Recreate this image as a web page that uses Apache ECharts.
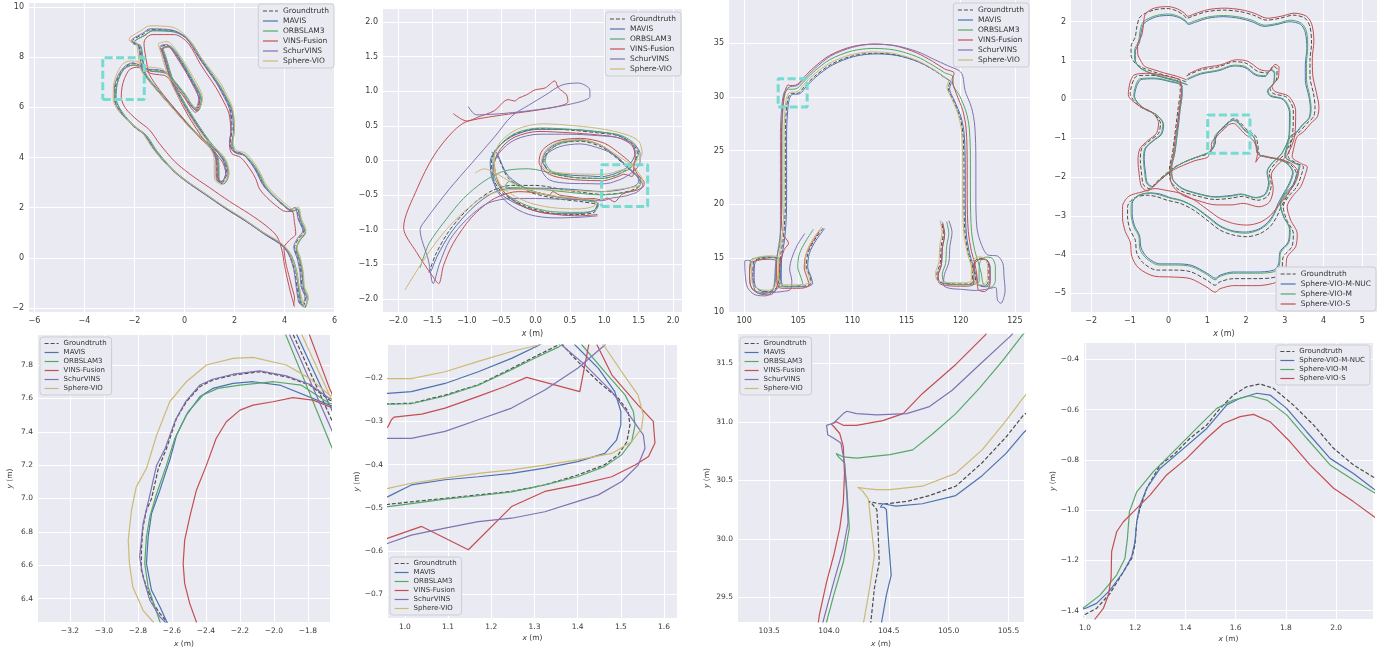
<!DOCTYPE html>
<html><head><meta charset="utf-8">
<script src="https://cdn.jsdelivr.net/npm/echarts/dist/echarts.min.js"></script>
<style>html,body{margin:0;padding:0;background:#fff}#c{width:1396px;height:649px}</style>
</head><body><div id="c"></div>
<script>
const NAMES6 = ['Groundtruth','MAVIS','ORBSLAM3','VINS-Fusion','SchurVINS','Sphere-VIO'];
const NAMES4 = ['Groundtruth','Sphere-VIO-M-NUC','Sphere-VIO-M','Sphere-VIO-S'];

// tick values
const P1_XT=[-6,-4,-2,0,2,4,6], P1_YT=[-2,0,2,4,6,8,10];
const P2_XT=[-2,-1.5,-1,-0.5,0,0.5,1,1.5,2], P2_YT=[-2,-1.5,-1,-0.5,0,0.5,1,1.5,2];
const P3_XT=[100,105,110,115,120,125], P3_YT=[10,15,20,25,30,35];
const P4_XT=[-2,-1,0,1,2,3,4,5], P4_YT=[-5,-4,-3,-2,-1,0,1,2];
const P5_XT=[-3.2,-3.0,-2.8,-2.6,-2.4,-2.2,-2.0,-1.8], P5_YT=[6.4,6.6,6.8,7.0,7.2,7.4,7.6,7.8];
const P6_XT=[1.0,1.1,1.2,1.3,1.4,1.5,1.6], P6_YT=[-0.7,-0.6,-0.5,-0.4,-0.3,-0.2];
const P7_XT=[103.5,104.0,104.5,105.0,105.5], P7_YT=[29.5,30.0,30.5,31.0,31.5];
const P8_XT=[1.0,1.2,1.4,1.6,1.8,2.0], P8_YT=[-1.4,-1.2,-1.0,-0.8,-0.6,-0.4];

// zoom boxes [x0,x1,y0,y1]
const BOX1=[-3.27,-1.61,6.31,7.98], BOX2=[0.96,1.63,-0.665,-0.063], BOX3=[103.14,105.82,29.05,31.69], BOX4=[1.01,2.1,-1.39,-0.405];

// ---------- Panel 1 ----------
const P1_GT=[[4.75,-1.95],[4.85,-1.6],[4.7,-1.2],[4.65,-0.6],[4.55,-0.1],[4.4,0.4],[4.55,0.75],[4.76,1.05],[4.58,1.5],[4.45,1.98],[4.25,1.9],[3.85,2.18],[3.45,2.55],[3.15,2.9],[2.95,3.3],[2.75,3.65],[2.35,4.12],[1.95,4.25],[1.83,4.6],[1.9,5.1],[1.83,5.9],[1.55,6.5],[1.3,6.95],[0.65,7.88],[0.1,8.72],[-0.45,9.05],[-1.35,9.1],[-1.65,8.92],[-2.05,8.7],[-2.1,8.58],[-1.85,8.5],[-1.75,8.0],[-1.65,7.4],[-1.2,6.8],[-0.5,6.0],[0.4,5.0],[1.0,4.45],[1.28,3.9],[1.3,3.1],[1.5,3.0],[1.68,3.35],[1.55,3.9],[0.9,4.7],[0.1,5.9],[-0.5,7.0],[-0.85,8.1],[-0.95,8.4],[-0.7,8.48],[-0.4,8.2],[0.2,7.2],[0.6,6.3],[0.45,5.9],[-0.1,6.6],[-0.5,7.1],[-0.75,7.4],[-1.05,7.48],[-1.4,7.5],[-1.75,7.66],[-2.05,7.76],[-2.35,7.62],[-2.6,7.3],[-2.77,6.8],[-2.78,6.3],[-2.55,5.8],[-2.1,5.3],[-1.6,4.9],[-1.2,4.3],[-0.6,3.6],[0.0,3.1],[0.8,2.55],[1.6,2.0],[2.4,1.5],[3.2,0.95],[3.9,0.5],[4.2,0.1],[4.4,-0.5],[4.5,-1.2],[4.6,-1.8],[4.7,-1.9]];
const P1_MAVIS=[[4.81,-2.0],[4.91,-1.65],[4.76,-1.25],[4.71,-0.65],[4.61,-0.15],[4.46,0.35],[4.61,0.7],[4.82,1.0],[4.64,1.45],[4.51,1.93],[4.31,1.85],[3.91,2.13],[3.51,2.5],[3.21,2.85],[3.01,3.25],[2.81,3.6],[2.41,4.07],[2.01,4.2],[1.89,4.55],[1.96,5.05],[1.89,5.85],[1.61,6.45],[1.36,6.9],[0.71,7.83],[0.16,8.67],[-0.39,9.0],[-1.29,9.05],[-1.59,8.87],[-1.99,8.65],[-2.04,8.53],[-1.79,8.45],[-1.69,7.95],[-1.59,7.35],[-1.14,6.75],[-0.44,5.95],[0.46,4.95],[1.06,4.4],[1.34,3.85],[1.36,3.05],[1.56,2.95],[1.74,3.3],[1.61,3.85],[0.96,4.65],[0.16,5.85],[-0.44,6.95],[-0.79,8.05],[-0.89,8.35],[-0.64,8.43],[-0.34,8.15],[0.26,7.15],[0.66,6.25],[0.51,5.85],[-0.04,6.55],[-0.44,7.05],[-0.7,7.33],[-0.99,7.41],[-1.34,7.44],[-1.69,7.6],[-2.05,7.69],[-2.38,7.56],[-2.56,7.3],[-2.7,6.9],[-2.74,6.4],[-2.49,5.75],[-2.04,5.25],[-1.54,4.85],[-1.14,4.25],[-0.54,3.55],[0.06,3.05],[0.86,2.5],[1.66,1.95],[2.46,1.45],[3.26,0.9],[3.96,0.45],[4.26,0.05],[4.46,-0.55],[4.56,-1.25],[4.66,-1.85],[4.76,-1.95]];
const P1_ORB=[[4.84,-1.98],[4.94,-1.63],[4.79,-1.23],[4.74,-0.63],[4.64,-0.13],[4.49,0.37],[4.64,0.72],[4.85,1.02],[4.67,1.47],[4.54,1.95],[4.34,1.87],[3.94,2.15],[3.54,2.52],[3.24,2.87],[3.04,3.27],[2.84,3.62],[2.44,4.09],[2.04,4.22],[1.92,4.57],[1.99,5.07],[1.92,5.87],[1.64,6.47],[1.39,6.92],[0.74,7.85],[0.19,8.69],[-0.36,9.02],[-1.26,9.07],[-1.56,8.89],[-1.96,8.67],[-2.01,8.55],[-1.76,8.47],[-1.66,7.97],[-1.56,7.37],[-1.11,6.77],[-0.41,5.97],[0.49,4.97],[1.09,4.42],[1.37,3.87],[1.39,3.07],[1.59,2.97],[1.77,3.32],[1.64,3.87],[0.99,4.67],[0.19,5.87],[-0.41,6.97],[-0.76,8.07],[-0.86,8.37],[-0.61,8.45],[-0.31,8.17],[0.29,7.17],[0.69,6.27],[0.54,5.87],[-0.01,6.57],[-0.41,7.07],[-0.67,7.35],[-0.96,7.42],[-1.31,7.45],[-1.66,7.6],[-2.05,7.68],[-2.4,7.55],[-2.58,7.28],[-2.71,6.9],[-2.76,6.4],[-2.46,5.77],[-2.01,5.27],[-1.51,4.87],[-1.11,4.27],[-0.51,3.57],[0.09,3.07],[0.89,2.52],[1.69,1.97],[2.49,1.47],[3.29,0.92],[3.99,0.47],[4.29,0.07],[4.49,-0.53],[4.59,-1.23],[4.69,-1.83],[4.79,-1.93]];
const P1_VINS=[[4.36,-1.9],[4.4,-1.6],[4.3,-1.2],[4.2,-0.8],[4.05,-0.2],[3.98,0.4],[4.2,0.7],[4.45,0.95],[4.4,1.4],[4.3,1.85],[4.05,1.85],[3.7,2.05],[3.3,2.4],[3.0,2.75],[2.85,3.15],[2.65,3.5],[2.25,4.0],[1.9,4.15],[1.8,4.5],[1.85,5.0],[1.78,5.75],[1.5,6.35],[1.25,6.8],[0.65,7.7],[0.15,8.55],[-0.4,8.9],[-1.3,8.9],[-1.55,8.75],[-1.62,8.55],[-1.6,8.3],[-1.55,8.0],[-1.5,7.7],[-1.4,7.3],[-1.0,6.7],[-0.35,5.9],[0.5,4.9],[1.05,4.35],[1.3,3.8],[1.32,3.15],[1.5,3.05],[1.65,3.35],[1.5,3.85],[0.85,4.6],[0.1,5.75],[-0.45,6.85],[-0.8,7.95],[-0.9,8.3],[-0.65,8.4],[-0.35,8.05],[0.25,7.05],[0.6,6.2],[0.45,5.8],[-0.05,6.45],[-0.45,6.95],[-0.75,7.25],[-1.0,7.3],[-1.35,7.35],[-1.7,7.55],[-1.9,7.6],[-2.2,7.5],[-2.4,7.15],[-2.5,6.8],[-2.53,6.4],[-2.35,5.95],[-1.9,5.5],[-1.4,5.1],[-1.0,4.55],[-0.4,3.85],[0.2,3.35],[1.0,2.8],[1.8,2.25],[2.6,1.75],[3.3,1.25],[3.7,0.85],[3.9,0.3],[4.0,-0.3],[4.15,-1.0],[4.3,-1.6],[4.4,-1.95]];
const P1_SCHUR=[[4.72,-1.92],[4.82,-1.57],[4.67,-1.17],[4.62,-0.57],[4.52,-0.07],[4.37,0.43],[4.52,0.78],[4.73,1.08],[4.55,1.53],[4.42,2.01],[4.22,1.93],[3.82,2.21],[3.42,2.58],[3.12,2.93],[2.92,3.33],[2.72,3.68],[2.32,4.15],[1.92,4.28],[1.8,4.63],[1.87,5.13],[1.8,5.93],[1.52,6.53],[1.27,6.98],[0.62,7.91],[0.07,8.75],[-0.48,9.08],[-1.38,9.13],[-1.68,8.95],[-2.08,8.73],[-2.13,8.61],[-1.88,8.53],[-1.78,8.03],[-1.68,7.43],[-1.23,6.83],[-0.53,6.03],[0.37,5.03],[0.97,4.48],[1.25,3.93],[1.27,3.13],[1.47,3.03],[1.65,3.38],[1.52,3.93],[0.87,4.73],[0.07,5.93],[-0.53,7.03],[-0.88,8.13],[-0.98,8.43],[-0.73,8.51],[-0.43,8.23],[0.17,7.23],[0.57,6.33],[0.42,5.93],[-0.13,6.63],[-0.53,7.13],[-0.78,7.42],[-1.08,7.5],[-1.42,7.52],[-1.78,7.68],[-2.08,7.77],[-2.38,7.64],[-2.63,7.32],[-2.8,6.82],[-2.81,6.32],[-2.58,5.83],[-2.13,5.33],[-1.63,4.93],[-1.23,4.33],[-0.63,3.63],[-0.03,3.13],[0.77,2.58],[1.57,2.03],[2.37,1.53],[3.17,0.98],[3.87,0.53],[4.17,0.13],[4.37,-0.47],[4.47,-1.17],[4.57,-1.77],[4.67,-1.87]];
const P1_SPH=[[4.85,-1.9],[4.95,-1.55],[4.8,-1.15],[4.75,-0.55],[4.65,-0.05],[4.5,0.45],[4.65,0.8],[4.86,1.1],[4.68,1.55],[4.55,2.03],[4.35,1.95],[3.95,2.23],[3.55,2.6],[3.25,2.95],[3.05,3.35],[2.85,3.7],[2.45,4.17],[2.05,4.3],[1.95,4.65],[2.0,5.15],[1.93,5.95],[1.65,6.57],[1.4,7.03],[0.65,8.0],[0.05,8.85],[-0.5,9.2],[-1.4,9.25],[-1.75,9.05],[-2.17,8.8],[-2.22,8.68],[-1.95,8.6],[-1.85,8.1],[-1.75,7.5],[-1.3,6.9],[-0.6,6.1],[0.3,5.1],[0.9,4.55],[1.18,4.0],[1.2,3.15],[1.48,2.92],[1.78,3.38],[1.62,3.98],[0.8,4.8],[0.0,6.0],[-0.6,7.1],[-0.95,8.2],[-1.05,8.52],[-0.7,8.62],[-0.35,8.3],[0.3,7.28],[0.72,6.35],[0.55,5.95],[-0.2,6.7],[-0.6,7.2],[-0.85,7.5],[-1.15,7.58],[-1.5,7.62],[-1.8,7.8],[-2.12,7.85],[-2.45,7.75],[-2.7,7.35],[-2.84,6.85],[-2.85,6.3],[-2.65,5.87],[-2.2,5.4],[-1.7,5.0],[-1.3,4.4],[-0.7,3.7],[-0.1,3.2],[0.7,2.65],[1.5,2.1],[2.3,1.6],[3.1,1.05],[3.85,0.6],[4.2,0.2],[4.45,-0.45],[4.6,-1.2],[4.75,-1.85],[4.8,-2.0]];

// ---------- Panel 2 ----------
const P2_GT=[[-1.55,-1.62],[-1.45,-1.35],[-1.28,-1.05],[-1.08,-0.8],[-0.85,-0.58],[-0.62,-0.43],[-0.35,-0.36],[0.0,-0.36],[0.4,-0.42],[0.75,-0.47],[0.96,-0.49],[1.2,-0.476],[1.4,-0.43],[1.49,-0.38],[1.522,-0.3],[1.5,-0.24],[1.45,-0.2],[1.4,-0.16],[1.3,-0.07],[1.15,0.06],[0.95,0.2],[0.65,0.28],[0.35,0.24],[0.17,0.12],[0.12,-0.02],[0.22,-0.17],[0.5,-0.24],[0.8,-0.255],[0.96,-0.259],[1.17,-0.215],[1.293,-0.154],[1.36,-0.12],[1.45,0.0],[1.48,0.12],[1.4,0.25],[1.2,0.36],[0.9,0.4],[0.5,0.44],[0.05,0.46],[-0.3,0.38],[-0.52,0.22],[-0.64,0.0],[-0.62,-0.25],[-0.48,-0.47],[-0.15,-0.66],[0.23,-0.76],[0.62,-0.78],[0.85,-0.75],[0.9,-0.65],[0.7,-0.6],[0.3,-0.55],[-0.1,-0.45],[-0.4,-0.25],[-0.55,0.05],[-0.64,0.12]];
const P2_MAVIS=[[-1.52,-1.6],[-1.42,-1.36],[-1.25,-1.07],[-1.05,-0.82],[-0.82,-0.6],[-0.6,-0.46],[-0.33,-0.4],[0.0,-0.4],[0.4,-0.41],[0.75,-0.435],[0.96,-0.45],[1.2,-0.43],[1.38,-0.39],[1.46,-0.36],[1.5,-0.3],[1.49,-0.25],[1.45,-0.2],[1.39,-0.15],[1.3,-0.06],[1.15,0.07],[0.95,0.22],[0.65,0.3],[0.35,0.26],[0.16,0.14],[0.1,0.0],[0.2,-0.15],[0.5,-0.21],[0.8,-0.225],[0.96,-0.234],[1.17,-0.185],[1.293,-0.126],[1.33,-0.1],[1.42,0.02],[1.45,0.13],[1.38,0.26],[1.18,0.37],[0.88,0.42],[0.48,0.45],[0.03,0.45],[-0.3,0.37],[-0.54,0.2],[-0.66,-0.02],[-0.63,-0.27],[-0.5,-0.49],[-0.15,-0.68],[0.23,-0.77],[0.62,-0.77],[0.85,-0.72],[0.9,-0.62],[0.7,-0.56],[0.3,-0.52],[-0.1,-0.42],[-0.4,-0.22],[-0.55,0.08],[-0.6,0.15]];
const P2_ORB=[[-1.68,-1.55],[-1.55,-1.2],[-1.3,-0.85],[-1.05,-0.55],[-0.75,-0.3],[-0.45,-0.15],[-0.1,-0.12],[0.3,-0.2],[0.6,-0.25],[0.8,-0.258],[0.96,-0.26],[1.17,-0.216],[1.293,-0.155],[1.37,-0.12],[1.46,0.0],[1.5,0.12],[1.42,0.26],[1.22,0.37],[0.92,0.41],[0.52,0.45],[0.07,0.47],[-0.28,0.4],[-0.5,0.24],[-0.62,0.02],[-0.6,-0.23],[-0.46,-0.46],[-0.13,-0.65],[0.25,-0.74],[0.64,-0.75],[0.87,-0.72],[0.92,-0.63],[0.72,-0.58],[0.32,-0.53],[-0.08,-0.44],[-0.38,-0.3],[-0.45,-0.38],[-0.1,-0.4],[0.4,-0.45],[0.75,-0.485],[0.96,-0.497],[1.2,-0.48],[1.4,-0.44],[1.5,-0.39],[1.533,-0.31],[1.52,-0.25],[1.47,-0.2],[1.42,-0.16],[1.32,-0.07],[1.17,0.06],[0.97,0.21],[0.67,0.29],[0.37,0.25],[0.19,0.13],[0.14,-0.01],[0.24,-0.16],[0.5,-0.23]];
const P2_VINS=[[-1.2,0.68],[-1.0,0.57],[-0.83,0.63],[-0.6,0.72],[-0.4,0.88],[-0.3,0.86],[-0.25,0.9],[-0.13,0.95],[-0.01,1.02],[0.14,1.05],[0.28,1.15],[0.33,1.05],[0.45,0.95],[0.47,0.85],[-0.98,0.57],[-1.2,0.42],[-1.48,0.07],[-1.72,-0.4],[-1.92,-0.97],[-1.73,-1.33],[-1.5,-1.67],[-1.41,-1.78],[-1.34,-1.52],[-1.2,-1.2],[-0.93,-0.82],[-0.6,-0.55],[-0.25,-0.45],[0.05,-0.47],[0.2,-0.5],[0.25,-0.45],[0.35,-0.5],[0.5,-0.52],[0.7,-0.55],[0.85,-0.55],[0.961,-0.57],[1.039,-0.543],[1.147,-0.597],[1.247,-0.497],[1.324,-0.462],[1.4,-0.447],[1.479,-0.428],[1.533,-0.401],[1.564,-0.381],[1.579,-0.35],[1.575,-0.3],[1.54,-0.262],[1.479,-0.192],[1.44,-0.12],[1.4,-0.05],[1.25,0.08],[1.0,0.25],[0.65,0.32],[0.3,0.28],[0.1,0.15],[0.05,-0.02],[0.2,-0.2],[0.5,-0.27],[0.8,-0.29],[0.955,-0.292],[0.97,-0.296],[1.039,-0.283],[1.093,-0.269],[1.17,-0.242],[1.232,-0.219],[1.282,-0.198],[1.405,-0.231],[1.428,-0.1],[1.45,0.05],[1.4,0.22],[1.2,0.33],[0.9,0.37],[0.5,0.4],[0.05,0.42],[-0.3,0.34],[-0.5,0.18],[-0.6,-0.05],[-0.55,-0.3],[-0.4,-0.52],[-0.1,-0.7],[0.3,-0.78],[0.65,-0.8],[0.9,-0.78]];
const P2_SCHUR=[[-0.98,0.78],[-0.86,0.66],[0.79,0.92],[0.79,1.02],[0.62,1.12],[0.38,1.09],[0.15,0.95],[-0.1,0.8],[-0.35,0.64],[-0.59,0.35],[-0.93,-0.04],[-1.26,-0.42],[-1.6,-0.86],[-1.68,-1.0],[-1.56,-1.44],[-1.49,-1.78],[-1.4,-1.5],[-1.25,-1.15],[-1.0,-0.85],[-0.7,-0.62],[-0.35,-0.55],[0.0,-0.55],[0.4,-0.56],[0.75,-0.57],[0.961,-0.582],[1.093,-0.547],[1.17,-0.532],[1.247,-0.524],[1.324,-0.509],[1.4,-0.485],[1.448,-0.47],[1.502,-0.439],[1.54,-0.401],[1.556,-0.362],[1.552,-0.331],[1.525,-0.293],[1.479,-0.231],[1.417,-0.169],[1.363,-0.12],[1.3,-0.05],[1.15,0.08],[0.95,0.17],[0.65,0.24],[0.35,0.2],[0.15,0.08],[0.08,-0.1],[0.2,-0.28],[0.5,-0.33],[0.8,-0.335],[0.961,-0.339],[1.093,-0.323],[1.17,-0.296],[1.247,-0.269],[1.324,-0.227],[1.4,-0.177],[1.463,-0.123],[1.52,-0.02],[1.52,0.1],[1.42,0.24],[1.2,0.33],[0.9,0.36],[0.5,0.38],[0.05,0.38],[-0.3,0.3],[-0.52,0.12],[-0.62,-0.12],[-0.58,-0.4],[-0.4,-0.62],[-0.1,-0.78],[0.3,-0.83],[0.65,-0.82],[0.9,-0.8]];
const P2_SPH=[[-1.9,-1.87],[-1.72,-1.58],[-1.52,-1.28],[-1.3,-1.0],[-1.05,-0.75],[-0.8,-0.55],[-0.55,-0.45],[-0.3,-0.42],[0.0,-0.42],[0.4,-0.43],[0.75,-0.445],[0.961,-0.455],[1.093,-0.431],[1.17,-0.42],[1.247,-0.412],[1.324,-0.401],[1.4,-0.389],[1.479,-0.374],[1.525,-0.347],[1.548,-0.316],[1.552,-0.285],[1.54,-0.239],[1.502,-0.185],[1.46,-0.123],[1.4,-0.06],[1.3,0.0],[1.15,0.1],[0.95,0.22],[0.65,0.3],[0.35,0.27],[0.15,0.15],[0.08,-0.05],[0.2,-0.15],[0.5,-0.19],[0.8,-0.198],[0.961,-0.201],[1.093,-0.185],[1.17,-0.161],[1.247,-0.138],[1.309,-0.123],[1.42,-0.05],[1.55,0.1],[1.5,0.28],[1.3,0.38],[1.0,0.45],[0.6,0.5],[0.1,0.53],[-0.25,0.46],[-0.5,0.28],[-0.6,0.05],[-0.58,-0.2],[-0.45,-0.42],[-0.12,-0.6],[0.23,-0.68],[0.62,-0.7],[0.85,-0.66],[0.88,-0.58],[0.6,-0.55],[0.2,-0.5],[-0.2,-0.4],[-0.55,-0.2],[-0.75,-0.12],[-0.88,-0.18]];

// ---------- Panel 3 ----------
const P3_GT=[[107.3,17.8],[106.5,16.7],[105.9,15.5],[105.75,14.25],[106.07,13.3],[106.2,12.7],[105.45,12.4],[103.9,12.4],[103.45,12.5],[103.3,13.3],[103.3,14.9],[102.5,15.1],[101.5,15.0],[100.9,14.7],[100.8,13.5],[100.9,12.5],[101.5,12.0],[102.4,11.9],[103.0,12.3],[103.2,13.0],[103.3,14.5],[103.4,15.5],[103.6,16.7],[103.75,18.5],[103.8,20.4],[103.8,23.5],[103.8,26.6],[103.9,28.8],[104.06,29.9],[104.35,30.3],[104.5,30.3],[105.0,30.35],[105.65,31.05],[106.5,31.9],[108.0,33.0],[110.0,33.8],[112.0,34.05],[114.0,33.9],[116.0,33.3],[117.5,32.5],[118.5,31.8],[119.0,31.4],[118.85,30.8],[119.3,29.7],[119.9,28.2],[120.2,26.6],[120.3,23.5],[120.3,20.4],[120.4,17.3],[120.7,15.5],[121.0,14.5],[121.3,13.5],[121.5,12.6],[122.2,12.4],[122.6,13.0],[122.6,14.2],[122.3,14.9],[121.7,15.0],[121.2,14.6],[121.1,13.6],[121.1,12.8],[120.5,12.6],[119.5,12.6],[118.3,12.7],[117.9,12.9],[117.8,13.5],[118.1,14.5],[118.2,16.1],[118.4,17.3],[118.2,18.4]];
const P3_MAVIS=[[107.42,17.74],[106.62,16.64],[106.02,15.44],[105.87,14.19],[106.19,13.24],[106.32,12.64],[105.57,12.34],[104.02,12.34],[103.57,12.44],[103.42,13.24],[103.42,14.84],[102.62,15.04],[101.62,14.94],[101.02,14.64],[100.92,13.44],[101.02,12.44],[101.62,11.94],[102.52,11.84],[103.12,12.24],[103.32,12.94],[103.42,14.44],[103.52,15.44],[103.72,16.64],[103.87,18.44],[103.92,20.34],[103.92,23.44],[103.92,26.54],[104.02,28.74],[104.18,29.84],[104.47,30.24],[104.62,30.24],[105.12,30.29],[105.77,30.99],[106.62,31.84],[108.12,32.94],[110.12,33.74],[112.12,33.99],[114.12,33.84],[116.12,33.24],[117.62,32.44],[118.62,31.74],[119.12,31.34],[118.97,30.74],[119.42,29.64],[120.02,28.14],[120.32,26.54],[120.42,23.44],[120.42,20.34],[120.52,17.24],[120.82,15.44],[121.12,14.44],[121.42,13.44],[121.62,12.54],[122.32,12.34],[122.72,12.94],[122.72,14.14],[122.42,14.84],[121.82,14.94],[121.32,14.54],[121.22,13.54],[121.22,12.74],[120.62,12.54],[119.62,12.54],[118.42,12.64],[118.02,12.84],[117.92,13.44],[118.22,14.44],[118.32,16.04],[118.52,17.24],[118.32,18.34]];
const P3_ORB=[[106.4,17.7],[105.7,16.6],[105.1,15.4],[104.95,14.2],[105.25,13.2],[105.4,12.65],[104.7,12.4],[103.5,12.35],[103.1,12.5],[102.9,13.3],[102.95,14.9],[102.2,15.15],[101.2,15.05],[100.6,14.8],[100.5,13.5],[100.6,12.4],[101.2,11.9],[102.1,11.8],[102.7,12.2],[102.9,13.0],[103.0,14.5],[103.1,15.6],[103.3,16.9],[103.45,18.7],[103.5,20.6],[103.5,23.7],[103.5,26.8],[103.6,29.0],[103.75,30.2],[104.05,30.72],[104.3,30.7],[104.9,30.8],[105.55,31.45],[106.4,32.3],[107.9,33.45],[109.9,34.25],[111.9,34.5],[113.9,34.35],[115.9,33.75],[117.4,32.95],[118.5,32.25],[119.3,31.85],[119.3,31.2],[119.9,30.1],[120.5,28.6],[120.8,27.0],[120.9,23.8],[120.9,20.6],[121.0,17.5],[121.3,15.7],[121.6,14.7],[121.9,13.6],[122.1,12.6],[122.8,12.3],[123.2,12.9],[123.2,14.2],[122.9,15.0],[122.3,15.1],[121.8,14.7],[121.7,13.7],[121.7,12.8],[121.0,12.55],[120.0,12.55],[118.8,12.65],[118.4,12.9],[118.3,13.5],[118.6,14.5],[118.7,16.1],[118.9,17.3],[118.7,18.4]];
const P3_VINS=[[107.0,17.6],[106.3,16.5],[105.7,15.3],[105.55,14.1],[105.85,13.1],[106.0,12.5],[105.2,12.2],[103.7,12.2],[103.2,12.3],[103.0,13.1],[103.0,14.7],[102.2,14.9],[101.2,14.8],[100.6,14.5],[100.5,13.3],[100.7,12.2],[101.4,11.7],[102.4,11.6],[102.9,12.0],[103.1,12.8],[103.3,14.4],[103.7,15.8],[104.1,16.4],[103.6,17.2],[103.45,18.6],[103.45,20.5],[103.45,23.6],[103.45,26.7],[103.55,29.0],[103.75,30.4],[104.05,31.1],[104.3,31.05],[104.9,31.15],[105.6,31.9],[106.4,32.7],[107.9,33.85],[109.9,34.65],[111.9,34.9],[113.9,34.75],[115.9,34.1],[117.4,33.3],[118.5,32.6],[119.4,32.2],[119.2,31.6],[119.6,30.3],[120.2,28.7],[120.5,27.0],[120.6,23.8],[120.6,20.6],[120.7,17.5],[121.0,15.6],[121.3,14.5],[121.5,13.4],[121.6,12.1],[122.2,11.9],[122.7,12.6],[122.7,14.0],[122.4,14.8],[121.8,14.9],[121.3,14.5],[121.2,13.5],[121.2,12.6],[120.6,12.4],[119.6,12.4],[118.4,12.5],[118.0,12.7],[117.9,13.3],[118.2,14.3],[118.3,15.9],[118.5,17.1],[118.3,18.2]];
const P3_SCHUR=[[105.6,17.3],[104.9,16.2],[104.4,15.0],[104.2,14.0],[104.4,12.9],[104.3,12.1],[103.5,11.9],[102.5,11.8],[101.5,11.7],[101.0,12.0],[100.8,13.2],[100.9,14.4],[100.4,14.8],[100.05,14.75],[100.1,13.5],[100.3,12.3],[101.0,11.6],[102.0,11.5],[102.6,11.9],[102.8,12.8],[102.9,14.4],[103.1,15.5],[103.3,16.3],[103.35,18.5],[103.35,20.4],[103.35,23.5],[103.35,26.6],[103.45,28.8],[103.65,30.3],[104.0,30.8],[104.3,30.95],[104.9,31.05],[105.6,31.7],[106.5,32.6],[108.0,33.8],[110.0,34.6],[112.0,34.9],[114.0,34.75],[116.0,34.2],[117.5,33.5],[118.8,32.9],[119.9,32.4],[120.2,31.9],[120.4,30.6],[121.0,29.0],[121.3,27.3],[121.4,24.0],[121.4,20.8],[121.5,17.8],[121.9,16.3],[122.5,15.3],[123.4,15.2],[123.9,14.5],[124.0,13.3],[124.1,12.0],[123.7,10.8],[123.4,11.1],[123.2,12.3],[122.3,12.1],[121.3,12.0],[120.2,12.1],[119.0,12.2],[118.4,12.5],[118.5,13.5],[118.9,14.6],[119.0,16.1],[119.2,17.4],[118.9,18.5]];
const P3_SPH=[[107.18,17.92],[106.38,16.82],[105.78,15.62],[105.63,14.37],[105.95,13.42],[106.08,12.82],[105.33,12.52],[103.78,12.52],[103.33,12.62],[103.18,13.42],[103.18,15.02],[102.38,15.22],[101.38,15.12],[100.78,14.82],[100.68,13.62],[100.78,12.62],[101.38,12.12],[102.28,12.02],[102.88,12.42],[103.08,13.12],[103.18,14.62],[103.28,15.62],[103.48,16.82],[103.63,18.62],[103.68,20.52],[103.68,23.62],[103.68,26.72],[103.78,28.92],[103.94,30.02],[104.23,30.42],[104.38,30.42],[104.88,30.47],[105.53,31.17],[106.38,32.02],[107.88,33.12],[109.88,33.92],[111.88,34.17],[113.88,34.02],[115.88,33.42],[117.38,32.62],[118.38,31.92],[118.88,31.52],[118.73,30.92],[119.18,29.82],[119.78,28.32],[120.08,26.72],[120.18,23.62],[120.18,20.52],[120.28,17.42],[120.58,15.62],[120.88,14.62],[121.18,13.62],[121.38,12.72],[122.08,12.52],[122.48,13.12],[122.48,14.32],[122.18,15.02],[121.58,15.12],[121.08,14.72],[120.98,13.72],[120.98,12.92],[120.38,12.72],[119.38,12.72],[118.18,12.82],[117.78,13.02],[117.68,13.62],[117.98,14.62],[118.08,16.22],[118.28,17.42],[118.08,18.52]];

// ---------- Panel 4 ----------
const P4_GT=[[0.45,0.45],[0.21,0.54],[-0.13,0.63],[-0.39,0.71],[-0.64,0.8],[-0.86,0.93],[-0.97,1.14],[-0.97,1.36],[-0.86,1.61],[-0.82,1.87],[-0.73,2.13],[-0.39,2.3],[-0.04,2.34],[0.21,2.28],[0.39,2.17],[0.47,2.09],[0.64,2.15],[0.99,2.26],[1.42,2.3],[1.85,2.26],[2.19,2.17],[2.53,2.04],[2.88,2.09],[3.22,2.17],[3.52,2.09],[3.65,1.87],[3.69,1.44],[3.65,1.01],[3.65,0.58],[3.74,0.15],[3.78,-0.19],[3.74,-0.45],[3.57,-0.62],[3.39,-0.83],[3.22,-0.96],[3.14,-1.22],[3.09,-1.48],[3.31,-1.65],[3.48,-1.74],[3.44,-1.91],[3.31,-2.25],[3.09,-2.51],[2.96,-2.77],[3.05,-3.11],[3.22,-3.46],[3.18,-3.8],[2.96,-4.06],[2.92,-4.4],[2.79,-4.57],[2.28,-4.62],[1.68,-4.62],[1.33,-4.7],[1.2,-4.79],[0.99,-4.66],[0.56,-4.44],[0.13,-4.4],[-0.3,-4.4],[-0.64,-4.23],[-0.82,-3.97],[-0.86,-3.63],[-0.99,-3.37],[-1.06,-3.03],[-1.06,-2.77],[-0.9,-2.55],[-0.56,-2.47],[-0.3,-2.51],[-0.04,-2.6],[0.3,-2.68],[0.64,-2.85],[0.99,-3.11],[1.33,-3.37],[1.68,-3.5],[2.02,-3.54],[2.36,-3.46],[2.62,-3.28],[2.79,-3.03],[2.9,-2.78],[3.05,-2.5],[3.22,-2.2],[3.3,-1.92],[3.15,-1.68],[2.9,-1.56],[2.6,-1.5],[2.35,-1.42],[2.3,-1.15],[2.25,-0.95],[2.146,-0.867],[2.069,-0.82],[1.99,-0.754],[1.91,-0.661],[1.83,-0.582],[1.75,-0.515],[1.697,-0.498],[1.644,-0.509],[1.591,-0.542],[1.538,-0.595],[1.485,-0.661],[1.418,-0.714],[1.352,-0.781],[1.299,-0.82],[1.246,-0.913],[1.219,-0.993],[1.206,-1.046],[1.199,-1.139],[1.186,-1.192],[1.153,-1.245],[1.1,-1.331],[1.046,-1.391],[1.0,-1.415],[0.7,-1.5],[0.4,-1.62],[0.15,-1.75],[-0.05,-1.9],[-0.3,-2.12],[-0.5,-2.3],[-0.65,-2.2],[-0.7,-1.9],[-0.73,-1.57],[-0.69,-1.26],[-0.47,-1.05],[-0.26,-0.88],[-0.21,-0.62],[-0.39,-0.36],[-0.73,-0.19],[-0.99,0.15],[-0.82,0.6],[-0.45,0.62],[-0.05,0.55],[0.3,0.42],[0.3,0.2],[0.25,-0.2],[0.2,-0.6],[0.15,-1.0],[0.1,-1.4],[0.02,-1.8],[0.05,-2.1],[0.3,-2.35],[0.7,-2.48],[1.2,-2.58],[1.6,-2.55],[1.9,-2.5],[2.3,-2.6],[2.55,-2.5],[2.65,-2.2],[2.6,-1.9],[2.75,-1.65],[3.0,-1.4],[3.2,-0.9],[3.22,-0.3],[3.05,0.05],[2.7,0.15],[2.62,0.28],[2.78,0.5],[2.8,0.78],[2.7,0.85],[2.55,0.68],[2.3,0.72],[2.0,0.93],[1.7,0.97],[1.3,0.84],[0.8,0.75],[0.45,0.6]];
const P4_NUC=[[0.49,0.37],[0.26,0.45],[-0.06,0.54],[-0.31,0.61],[-0.54,0.7],[-0.75,0.82],[-0.86,1.02],[-0.86,1.23],[-0.75,1.47],[-0.71,1.72],[-0.63,1.96],[-0.31,2.13],[0.03,2.16],[0.26,2.11],[0.44,2.0],[0.51,1.93],[0.67,1.98],[1.01,2.09],[1.41,2.13],[1.82,2.09],[2.15,2.0],[2.47,1.88],[2.8,1.93],[3.12,2.0],[3.41,1.93],[3.53,1.72],[3.57,1.31],[3.53,0.9],[3.53,0.49],[3.62,0.08],[3.66,-0.24],[3.62,-0.49],[3.46,-0.65],[3.29,-0.85],[3.12,-0.97],[3.05,-1.22],[3.0,-1.47],[3.21,-1.63],[3.37,-1.71],[3.33,-1.87],[3.21,-2.2],[3.0,-2.44],[2.88,-2.69],[2.96,-3.01],[3.12,-3.35],[3.09,-3.67],[2.88,-3.92],[2.84,-4.24],[2.72,-4.4],[2.23,-4.45],[1.66,-4.45],[1.33,-4.53],[1.21,-4.61],[1.01,-4.49],[0.6,-4.28],[0.19,-4.24],[-0.22,-4.24],[-0.54,-4.08],[-0.71,-3.83],[-0.75,-3.51],[-0.88,-3.26],[-0.94,-2.94],[-0.94,-2.69],[-0.79,-2.48],[-0.47,-2.41],[-0.22,-2.44],[0.03,-2.53],[0.35,-2.61],[0.67,-2.77],[1.01,-3.01],[1.33,-3.26],[1.66,-3.39],[1.98,-3.42],[2.31,-3.35],[2.55,-3.18],[2.72,-2.94],[2.82,-2.7],[2.96,-2.44],[3.12,-2.15],[3.2,-1.88],[3.06,-1.66],[2.82,-1.54],[2.54,-1.49],[2.3,-1.41],[2.25,-1.15],[2.2,-0.96],[2.146,-0.913],[2.069,-0.854],[1.976,-0.794],[1.883,-0.688],[1.803,-0.595],[1.737,-0.542],[1.684,-0.535],[1.618,-0.555],[1.564,-0.582],[1.485,-0.675],[1.378,-0.767],[1.299,-0.834],[1.246,-0.913],[1.219,-0.98],[1.206,-1.046],[1.199,-1.125],[1.186,-1.185],[1.153,-1.245],[1.1,-1.318],[1.046,-1.371],[1.0,-1.391],[0.73,-1.49],[0.445,-1.6],[0.21,-1.72],[0.02,-1.87],[-0.22,-2.07],[-0.41,-2.25],[-0.55,-2.15],[-0.6,-1.87],[-0.63,-1.55],[-0.59,-1.26],[-0.38,-1.06],[-0.18,-0.9],[-0.13,-0.65],[-0.31,-0.4],[-0.63,-0.24],[-0.88,0.08],[-0.71,0.51],[-0.36,0.53],[0.02,0.46],[0.35,0.34],[0.35,0.13],[0.3,-0.25],[0.26,-0.63],[0.21,-1.01],[0.16,-1.39],[0.08,-1.77],[0.11,-2.06],[0.35,-2.29],[0.73,-2.42],[1.2,-2.51],[1.59,-2.48],[1.87,-2.44],[2.25,-2.53],[2.49,-2.44],[2.58,-2.15],[2.54,-1.87],[2.68,-1.63],[2.92,-1.39],[3.11,-0.92],[3.12,-0.35],[2.96,-0.01],[2.63,0.08],[2.55,0.21],[2.71,0.42],[2.73,0.68],[2.63,0.75],[2.49,0.59],[2.25,0.62],[1.97,0.82],[1.68,0.86],[1.3,0.74],[0.825,0.65],[0.49,0.51]];
const P4_M=[[0.48,0.38],[0.25,0.47],[-0.07,0.56],[-0.32,0.63],[-0.56,0.72],[-0.77,0.85],[-0.88,1.05],[-0.88,1.26],[-0.77,1.5],[-0.74,1.75],[-0.65,2.0],[-0.32,2.16],[0.01,2.2],[0.25,2.14],[0.43,2.04],[0.5,1.96],[0.67,2.02],[1.0,2.12],[1.42,2.16],[1.83,2.12],[2.15,2.04],[2.48,1.91],[2.82,1.96],[3.14,2.04],[3.43,1.96],[3.56,1.75],[3.59,1.33],[3.56,0.92],[3.56,0.51],[3.64,0.1],[3.68,-0.23],[3.64,-0.48],[3.48,-0.64],[3.31,-0.85],[3.14,-0.97],[3.07,-1.22],[3.02,-1.47],[3.23,-1.63],[3.39,-1.72],[3.35,-1.88],[3.23,-2.21],[3.02,-2.46],[2.89,-2.71],[2.98,-3.03],[3.14,-3.37],[3.1,-3.7],[2.89,-3.95],[2.86,-4.27],[2.73,-4.44],[2.24,-4.48],[1.665,-4.48],[1.33,-4.56],[1.2,-4.65],[1.0,-4.52],[0.59,-4.31],[0.18,-4.27],[-0.24,-4.27],[-0.56,-4.11],[-0.74,-3.86],[-0.77,-3.53],[-0.9,-3.28],[-0.97,-2.96],[-0.97,-2.71],[-0.81,-2.5],[-0.49,-2.42],[-0.24,-2.46],[0.01,-2.54],[0.34,-2.62],[0.67,-2.78],[1.0,-3.03],[1.33,-3.28],[1.665,-3.41],[1.99,-3.45],[2.32,-3.37],[2.57,-3.2],[2.73,-2.96],[2.84,-2.72],[2.98,-2.45],[3.14,-2.16],[3.22,-1.89],[3.08,-1.66],[2.84,-1.55],[2.55,-1.49],[2.31,-1.41],[2.26,-1.15],[2.2,-0.97],[2.146,-0.927],[2.069,-0.88],[1.976,-0.82],[1.883,-0.714],[1.803,-0.621],[1.724,-0.562],[1.657,-0.545],[1.591,-0.562],[1.525,-0.595],[1.458,-0.661],[1.378,-0.741],[1.325,-0.794],[1.272,-0.847],[1.206,-0.927],[1.177,-1.006],[1.169,-1.112],[1.159,-1.192],[1.126,-1.258],[1.06,-1.338],[1.0,-1.384],[0.72,-1.49],[0.436,-1.6],[0.2,-1.73],[0.004,-1.87],[-0.24,-2.08],[-0.43,-2.26],[-0.57,-2.16],[-0.62,-1.87],[-0.65,-1.55],[-0.61,-1.26],[-0.4,-1.06],[-0.2,-0.89],[-0.15,-0.64],[-0.32,-0.39],[-0.65,-0.23],[-0.9,0.1],[-0.74,0.53],[-0.38,0.55],[0.004,0.48],[0.34,0.36],[0.34,0.14],[0.29,-0.24],[0.24,-0.62],[0.2,-1.01],[0.15,-1.39],[0.07,-1.78],[0.1,-2.06],[0.34,-2.3],[0.72,-2.43],[1.2,-2.52],[1.59,-2.5],[1.88,-2.45],[2.26,-2.54],[2.5,-2.45],[2.6,-2.16],[2.55,-1.87],[2.69,-1.63],[2.93,-1.39],[3.12,-0.91],[3.14,-0.34],[2.98,0.0],[2.64,0.1],[2.57,0.22],[2.72,0.43],[2.74,0.7],[2.64,0.77],[2.5,0.61],[2.26,0.64],[1.97,0.85],[1.68,0.88],[1.3,0.76],[0.82,0.67],[0.48,0.53]];
const P4_S=[[0.47,0.5],[0.23,0.59],[-0.11,0.68],[-0.37,0.76],[-0.62,0.85],[-0.71,0.98],[-0.8,1.19],[-0.8,1.41],[-0.69,1.66],[-0.65,1.92],[-0.6,2.2],[-0.37,2.35],[-0.02,2.39],[0.23,2.33],[0.41,2.22],[0.49,2.14],[0.66,2.2],[1.01,2.31],[1.44,2.35],[1.87,2.31],[2.21,2.22],[2.55,2.09],[2.9,2.14],[3.24,2.22],[3.56,2.14],[3.7,1.92],[3.75,1.49],[3.71,1.06],[3.72,0.63],[3.81,0.2],[3.88,-0.19],[3.84,-0.45],[3.67,-0.62],[3.49,-0.83],[3.32,-0.96],[3.24,-1.22],[3.19,-1.48],[3.41,-1.65],[3.58,-1.74],[3.54,-1.91],[3.41,-2.25],[3.19,-2.51],[3.06,-2.77],[3.15,-3.11],[3.32,-3.46],[3.28,-3.8],[3.06,-4.06],[3.02,-4.4],[2.89,-4.67],[2.28,-4.8],[1.68,-4.8],[1.33,-4.88],[1.2,-4.97],[0.99,-4.84],[0.56,-4.62],[0.13,-4.58],[-0.35,-4.56],[-0.77,-4.35],[-0.95,-4.05],[-0.99,-3.68],[-1.12,-3.4],[-1.19,-3.05],[-1.19,-2.77],[-1.03,-2.5],[-0.66,-2.38],[-0.35,-2.3],[-0.04,-2.35],[0.3,-2.42],[0.64,-2.58],[0.99,-2.83],[1.33,-3.07],[1.68,-3.2],[2.02,-3.24],[2.36,-3.17],[2.62,-3.0],[2.79,-2.8],[2.95,-2.6],[3.1,-2.4],[3.27,-2.15],[3.35,-1.9],[3.2,-1.68],[2.95,-1.56],[2.65,-1.5],[2.4,-1.45],[2.25,-1.62],[2.3,-1.35],[2.2,-1.08],[2.146,-1.022],[2.069,-0.966],[1.99,-0.913],[1.896,-0.82],[1.817,-0.728],[1.737,-0.648],[1.671,-0.619],[1.618,-0.628],[1.551,-0.655],[1.485,-0.714],[1.405,-0.794],[1.325,-0.86],[1.259,-0.94],[1.206,-0.993],[1.153,-1.046],[1.126,-1.086],[1.106,-1.165],[1.104,-1.271],[1.093,-1.338],[1.073,-1.391],[1.04,-1.433],[1.0,-1.5],[0.68,-1.58],[0.38,-1.7],[0.12,-1.82],[-0.08,-1.97],[-0.33,-2.18],[-0.55,-2.36],[-0.7,-2.25],[-0.76,-1.93],[-0.79,-1.58],[-0.74,-1.27],[-0.52,-1.05],[-0.31,-0.87],[-0.26,-0.6],[-0.44,-0.33],[-0.79,-0.15],[-1.04,0.12],[-0.9,0.62],[-0.5,0.67],[-0.07,0.6],[0.3,0.48],[0.33,0.2],[0.28,-0.22],[0.23,-0.62],[0.17,-1.02],[0.12,-1.43],[0.04,-1.83],[0.07,-2.16],[0.33,-2.45],[0.73,-2.6],[1.23,-2.72],[1.63,-2.72],[1.93,-2.68],[2.33,-2.77],[2.6,-2.65],[2.7,-2.3],[2.65,-1.95],[2.8,-1.7],[3.05,-1.45],[3.26,-0.92],[3.28,-0.3],[3.1,0.08],[2.75,0.2],[2.67,0.33],[2.83,0.55],[2.85,0.83],[2.75,0.9],[2.6,0.73],[2.35,0.77],[2.05,0.98],[1.75,1.02],[1.35,0.89],[0.85,0.8],[0.5,0.65]];

// ---------- Panel 5 (zoom of panel 1) ----------
const P5_GT=[[-1.93,8.08],[-1.673,7.5],[-1.6,7.33],[-1.55,7.5],[-1.6,7.57],[-1.673,7.59],[-1.79,7.68],[-1.927,7.73],[-2.084,7.76],[-2.24,7.74],[-2.36,7.71],[-2.436,7.67],[-2.515,7.58],[-2.573,7.48],[-2.632,7.3],[-2.68,7.18],[-2.72,7.0],[-2.75,6.93],[-2.77,6.83],[-2.78,6.69],[-2.78,6.57],[-2.75,6.47],[-2.71,6.37],[-2.67,6.31],[-2.63,6.26],[-2.6,6.2]];
const P5_MAVIS=[[-1.91,8.08],[-1.673,7.56],[-1.6,7.4],[-1.55,7.5],[-1.6,7.54],[-1.673,7.56],[-1.966,7.68],[-2.123,7.7],[-2.24,7.69],[-2.36,7.66],[-2.436,7.61],[-2.515,7.5],[-2.573,7.38],[-2.61,7.24],[-2.671,7.05],[-2.72,6.91],[-2.74,6.77],[-2.75,6.61],[-2.72,6.45],[-2.67,6.35],[-2.63,6.26],[-2.6,6.2]];
const P5_ORB=[[-1.97,8.08],[-1.673,7.34],[-1.6,7.16],[-1.55,7.4],[-1.6,7.56],[-1.673,7.57],[-1.84,7.68],[-2.0,7.7],[-2.2,7.68],[-2.33,7.66],[-2.417,7.62],[-2.505,7.52],[-2.583,7.36],[-2.632,7.2],[-2.69,7.03],[-2.73,6.89],[-2.75,6.77],[-2.76,6.61],[-2.74,6.47],[-2.7,6.35],[-2.67,6.26],[-2.65,6.2]];
const P5_VINS=[[-1.82,8.06],[-1.673,7.66],[-1.6,7.5],[-1.55,7.52],[-1.6,7.54],[-1.673,7.55],[-1.77,7.59],[-1.888,7.605],[-2.006,7.58],[-2.123,7.56],[-2.2,7.53],[-2.28,7.46],[-2.34,7.36],[-2.397,7.2],[-2.456,7.05],[-2.495,6.89],[-2.525,6.75],[-2.534,6.61],[-2.525,6.49],[-2.495,6.37],[-2.456,6.26],[-2.44,6.2]];
const P5_SCHUR=[[-1.95,8.08],[-1.673,7.44],[-1.6,7.27],[-1.55,7.5],[-1.6,7.59],[-1.673,7.6],[-1.79,7.685],[-1.927,7.735],[-2.084,7.765],[-2.24,7.745],[-2.36,7.715],[-2.436,7.68],[-2.52,7.58],[-2.58,7.47],[-2.64,7.3],[-2.69,7.2],[-2.73,7.02],[-2.77,6.85],[-2.79,6.65],[-2.77,6.53],[-2.73,6.39],[-2.67,6.29],[-2.64,6.26],[-2.62,6.2]];
const P5_SPH=[[-1.88,8.08],[-1.673,7.62],[-1.6,7.45],[-1.55,7.55],[-1.6,7.61],[-1.673,7.62],[-1.79,7.72],[-1.927,7.8],[-2.123,7.846],[-2.24,7.84],[-2.397,7.8],[-2.515,7.7],[-2.613,7.58],[-2.69,7.38],[-2.75,7.18],[-2.81,7.07],[-2.838,6.93],[-2.857,6.75],[-2.85,6.61],[-2.83,6.47],[-2.77,6.33],[-2.71,6.26],[-2.68,6.2]];

// ---------- Panel 6 (zoom of panel 2) ----------
const P6_GT=[[0.94,-0.26],[0.961,-0.259],[1.015,-0.258],[1.093,-0.239],[1.17,-0.215],[1.232,-0.185],[1.293,-0.154],[1.355,-0.123],[1.38,-0.1],[1.365,-0.123],[1.4,-0.161],[1.448,-0.208],[1.494,-0.246],[1.517,-0.277],[1.521,-0.308],[1.514,-0.347],[1.494,-0.377],[1.463,-0.4],[1.4,-0.424],[1.324,-0.447],[1.247,-0.462],[1.17,-0.47],[1.093,-0.478],[1.015,-0.486],[0.961,-0.492],[0.94,-0.494]];
const P6_MAVIS=[[0.94,-0.237],[0.961,-0.235],[1.015,-0.231],[1.093,-0.212],[1.17,-0.185],[1.247,-0.154],[1.309,-0.124],[1.35,-0.1],[1.38,-0.1],[1.394,-0.123],[1.448,-0.177],[1.486,-0.231],[1.5,-0.277],[1.5,-0.308],[1.49,-0.343],[1.463,-0.374],[1.4,-0.393],[1.324,-0.408],[1.247,-0.42],[1.17,-0.428],[1.093,-0.435],[1.015,-0.447],[0.961,-0.474],[0.94,-0.48]];
const P6_ORB=[[0.94,-0.26],[0.961,-0.26],[1.015,-0.259],[1.093,-0.241],[1.17,-0.216],[1.247,-0.18],[1.293,-0.157],[1.355,-0.128],[1.38,-0.11],[1.4,-0.1],[1.41,-0.123],[1.463,-0.185],[1.51,-0.239],[1.529,-0.277],[1.533,-0.308],[1.525,-0.347],[1.502,-0.377],[1.463,-0.404],[1.4,-0.428],[1.324,-0.447],[1.247,-0.463],[1.17,-0.472],[1.093,-0.48],[1.015,-0.49],[0.961,-0.497],[0.94,-0.5]];
const P6_VINS=[[0.95,-0.32],[0.961,-0.312],[0.969,-0.296],[0.975,-0.29],[1.039,-0.283],[1.093,-0.269],[1.17,-0.242],[1.232,-0.219],[1.282,-0.198],[1.405,-0.231],[1.43,-0.1],[1.44,-0.1],[1.445,-0.123],[1.479,-0.192],[1.54,-0.262],[1.575,-0.3],[1.579,-0.35],[1.564,-0.381],[1.533,-0.401],[1.479,-0.428],[1.4,-0.447],[1.324,-0.462],[1.247,-0.497],[1.147,-0.597],[1.039,-0.543],[0.961,-0.57],[0.94,-0.58]];
const P6_SCHUR=[[0.94,-0.34],[0.961,-0.339],[1.015,-0.339],[1.093,-0.323],[1.17,-0.296],[1.247,-0.269],[1.324,-0.227],[1.4,-0.177],[1.463,-0.123],[1.48,-0.1],[1.38,-0.1],[1.363,-0.123],[1.417,-0.169],[1.479,-0.231],[1.525,-0.293],[1.552,-0.331],[1.556,-0.362],[1.54,-0.401],[1.502,-0.439],[1.448,-0.47],[1.4,-0.485],[1.324,-0.509],[1.247,-0.524],[1.17,-0.532],[1.093,-0.547],[1.015,-0.563],[0.961,-0.582],[0.94,-0.59]];
const P6_SPH=[[0.94,-0.201],[0.961,-0.201],[1.015,-0.201],[1.093,-0.185],[1.17,-0.161],[1.247,-0.138],[1.309,-0.123],[1.35,-0.1],[1.43,-0.1],[1.46,-0.123],[1.502,-0.185],[1.54,-0.239],[1.552,-0.285],[1.548,-0.316],[1.525,-0.347],[1.479,-0.374],[1.4,-0.389],[1.324,-0.401],[1.247,-0.412],[1.17,-0.42],[1.093,-0.431],[1.015,-0.443],[0.961,-0.455],[0.94,-0.46]];

// ---------- Panel 7 (zoom of panel 3) ----------
const P7_GT=[[105.7,31.12],[105.62,31.05],[105.48,30.87],[105.28,30.65],[105.06,30.45],[104.84,30.37],[104.65,30.32],[104.48,30.3],[104.42,30.3],[104.33,30.32],[104.36,30.3],[104.4,30.25],[104.41,30.09],[104.42,29.8],[104.38,29.58],[104.35,29.29],[104.34,29.2]];
const P7_MAVIS=[[105.7,30.98],[105.62,30.9],[105.48,30.73],[105.28,30.54],[105.06,30.37],[104.78,30.3],[104.56,30.28],[104.45,30.3],[104.43,30.27],[104.46,30.27],[104.48,30.25],[104.49,30.09],[104.52,29.69],[104.48,29.52],[104.44,29.29],[104.43,29.2]];
const P7_ORB=[[105.68,31.82],[105.62,31.745],[105.45,31.52],[105.26,31.29],[105.06,31.07],[104.87,30.9],[104.7,30.76],[104.51,30.72],[104.23,30.69],[104.12,30.7],[104.06,30.73],[104.08,30.7],[104.13,30.65],[104.15,30.42],[104.17,30.09],[104.12,29.8],[104.04,29.52],[103.98,29.29],[103.96,29.2]];
const P7_VINS=[[105.34,31.84],[105.31,31.745],[105.06,31.49],[104.78,31.24],[104.62,31.07],[104.45,31.01],[104.23,30.97],[104.12,30.97],[104.06,31.0],[104.02,30.98],[104.04,30.96],[104.09,30.9],[104.12,30.79],[104.13,30.56],[104.12,30.31],[104.09,30.09],[104.04,29.86],[103.98,29.63],[103.92,29.35],[103.9,29.2]];
const P7_SCHUR=[[105.56,31.84],[105.53,31.745],[105.26,31.49],[105.03,31.27],[104.84,31.13],[104.65,31.07],[104.4,31.06],[104.23,31.07],[104.15,31.09],[104.12,31.07],[104.04,30.99],[103.98,30.97],[103.99,30.89],[104.04,30.86],[104.1,30.82],[104.13,30.65],[104.15,30.37],[104.16,30.14],[104.12,29.92],[104.04,29.63],[103.95,29.29],[103.93,29.2]];
const P7_SPH=[[105.7,31.3],[105.62,31.2],[105.48,31.01],[105.28,30.76],[105.06,30.56],[104.78,30.45],[104.51,30.42],[104.4,30.42],[104.31,30.43],[104.24,30.44],[104.28,30.41],[104.33,30.34],[104.35,30.14],[104.38,29.86],[104.34,29.58],[104.29,29.29],[104.28,29.2]];

// ---------- Panel 8 (zoom of panel 4) ----------
const P8_GT=[[0.98,-1.43],[1.0,-1.415],[1.046,-1.391],[1.1,-1.331],[1.153,-1.245],[1.186,-1.192],[1.199,-1.139],[1.206,-1.046],[1.219,-0.993],[1.246,-0.913],[1.299,-0.82],[1.352,-0.781],[1.418,-0.714],[1.485,-0.661],[1.538,-0.595],[1.591,-0.542],[1.644,-0.509],[1.697,-0.498],[1.75,-0.515],[1.83,-0.582],[1.91,-0.661],[1.99,-0.754],[2.069,-0.82],[2.146,-0.867],[2.17,-0.88]];
const P8_NUC=[[0.98,-1.395],[1.0,-1.391],[1.046,-1.371],[1.1,-1.318],[1.153,-1.245],[1.186,-1.185],[1.199,-1.125],[1.206,-1.046],[1.219,-0.98],[1.246,-0.913],[1.299,-0.834],[1.378,-0.767],[1.485,-0.675],[1.564,-0.582],[1.618,-0.555],[1.684,-0.535],[1.737,-0.542],[1.803,-0.595],[1.883,-0.688],[1.976,-0.794],[2.069,-0.854],[2.146,-0.913],[2.17,-0.93]];
const P8_M=[[0.98,-1.395],[1.0,-1.384],[1.06,-1.338],[1.126,-1.258],[1.159,-1.192],[1.169,-1.112],[1.177,-1.006],[1.206,-0.927],[1.272,-0.847],[1.325,-0.794],[1.378,-0.741],[1.458,-0.661],[1.525,-0.595],[1.591,-0.562],[1.657,-0.545],[1.724,-0.562],[1.803,-0.621],[1.883,-0.714],[1.976,-0.82],[2.069,-0.88],[2.146,-0.927],[2.17,-0.94]];
const P8_S=[[1.03,-1.46],[1.04,-1.433],[1.073,-1.391],[1.093,-1.338],[1.104,-1.271],[1.106,-1.165],[1.126,-1.086],[1.153,-1.046],[1.206,-0.993],[1.259,-0.94],[1.325,-0.86],[1.405,-0.794],[1.485,-0.714],[1.551,-0.655],[1.618,-0.628],[1.671,-0.619],[1.737,-0.648],[1.817,-0.728],[1.896,-0.82],[1.99,-0.913],[2.069,-0.966],[2.146,-1.022],[2.17,-1.04]];

// ---------------- build ----------------
const COLORS={'Groundtruth':'#4d4d4d','MAVIS':'#4C72B0','ORBSLAM3':'#55A868','VINS-Fusion':'#C44E52','SchurVINS':'#8172B2','Sphere-VIO':'#CCB974','Sphere-VIO-M-NUC':'#4C72B0','Sphere-VIO-M':'#55A868','Sphere-VIO-S':'#C44E52'};
const FONT='DejaVu Sans', TXT='#3a3a3a';

const panels=[
 {g:{left:29,top:3,width:306,height:309},x:[-6.22,6.02],y:[-2.16,10.16],xt:P1_XT,yt:P1_YT,xd:0,yd:0,small:false,names:NAMES6,data:[P1_GT,P1_MAVIS,P1_ORB,P1_VINS,P1_SCHUR,P1_SPH],box:BOX1,leg:{right:1062,top:4}},
 {g:{left:383,top:9,width:299,height:303},x:[-2.22,2.13],y:[-2.19,2.19],xt:P2_XT,yt:P2_YT,xd:1,yd:1,small:false,names:NAMES6,data:[P2_GT,P2_MAVIS,P2_ORB,P2_VINS,P2_SCHUR,P2_SPH],box:BOX2,leg:{right:715,top:12},xName:true,xGap:18},
 {g:{left:729,top:0,width:301,height:312},x:[98.6,126.4],y:[10,39],xt:P3_XT,yt:P3_YT,xd:0,yd:0,small:false,names:NAMES6,data:[P3_GT,P3_MAVIS,P3_ORB,P3_VINS,P3_SCHUR,P3_SPH],box:BOX3,leg:{right:367,top:3}},
 {g:{left:1071,top:0,width:306,height:312},x:[-2.52,5.38],y:[-5.48,2.56],xt:P4_XT,yt:P4_YT,xd:0,yd:0,small:false,names:NAMES4,data:[P4_GT,P4_NUC,P4_M,P4_S],box:BOX4,leg:{right:20,bottom:338},xName:true,xGap:18},
 {g:{left:38,top:335,width:292,height:289},x:[-3.388,-1.67],y:[6.26,7.98],xt:P5_XT,yt:P5_YT,xd:1,yd:1,small:true,names:NAMES6,data:[P5_GT,P5_MAVIS,P5_ORB,P5_VINS,P5_SCHUR,P5_SPH],leg:{left:40,top:337},xName:true,xGap:18,yName:true,yGap:24},
 {g:{left:388,top:345,width:289,height:273},x:[0.961,1.63],y:[-0.755,-0.123],xt:P6_XT,yt:P6_YT,xd:1,yd:1,small:true,names:NAMES6,data:[P6_GT,P6_MAVIS,P6_ORB,P6_VINS,P6_SCHUR,P6_SPH],leg:{left:390,bottom:34},xName:true,xGap:16,yName:true,yGap:26},
 {g:{left:738,top:334,width:286,height:292},x:[103.24,105.63],y:[29.29,31.75],xt:P7_XT,yt:P7_YT,xd:1,yd:1,small:true,names:NAMES6,data:[P7_GT,P7_MAVIS,P7_ORB,P7_VINS,P7_SCHUR,P7_SPH],leg:{left:740,top:337},xName:true,xGap:18,yName:true,yGap:27},
 {g:{left:1084,top:343,width:289,height:276},x:[0.996,2.147],y:[-1.433,-0.335],xt:P8_XT,yt:P8_YT,xd:1,yd:1,small:true,names:NAMES4,data:[P8_GT,P8_NUC,P8_M,P8_S],leg:{right:26,top:345},xName:true,xGap:16,yName:true,yGap:26}
];

function fmt(d){return v=>{let n=+v; if(Math.abs(n)<1e-9)n=0; return n.toFixed(d).replace('-','\u2212');};}

const grid=[],xAxis=[],yAxis=[],series=[],legend=[];
panels.forEach((p,i)=>{
  const fs=p.small?7.5:8;
  grid.push(Object.assign({show:true,backgroundColor:'#EAEAF2',borderWidth:0,containLabel:false},p.g));
  const nameStyle={fontSize:fs,color:TXT,fontFamily:FONT,rich:{i:{fontStyle:'italic',fontSize:fs,color:TXT,fontFamily:FONT}}};
  xAxis.push({type:'value',gridIndex:i,min:p.x[0],max:p.x[1],
    axisLine:{show:false},axisTick:{show:false,customValues:p.xt},
    splitLine:{show:true,lineStyle:{color:'#ffffff',width:1}},
    axisLabel:{customValues:p.xt,formatter:fmt(p.xd),fontSize:fs,color:TXT,fontFamily:FONT,margin:5},
    name:p.xName?'{i|x} (m)':'',nameLocation:'middle',nameGap:p.xGap||18,nameTextStyle:nameStyle});
  yAxis.push({type:'value',gridIndex:i,min:p.y[0],max:p.y[1],
    axisLine:{show:false},axisTick:{show:false,customValues:p.yt},
    splitLine:{show:true,lineStyle:{color:'#ffffff',width:1}},
    axisLabel:{customValues:p.yt,formatter:fmt(p.yd),fontSize:fs,color:TXT,fontFamily:FONT,margin:5},
    name:p.yName?'{i|y} (m)':'',nameLocation:'middle',nameGap:p.yGap||24,nameTextStyle:nameStyle});
  p.data.forEach((d,k)=>{
    const nm=p.names[k], gt=nm==='Groundtruth';
    series.push({type:'line',name:nm,xAxisIndex:i,yAxisIndex:i,data:d,symbol:'none',showSymbol:false,
      smooth:p.small?false:0.3,clip:true,silent:true,animation:false,
      lineStyle:{color:COLORS[nm],width:p.small?1.2:1,type:gt?[4,2]:'solid'},itemStyle:{color:COLORS[nm]}});
  });
  if(p.box){
    const b=p.box;
    series.push({type:'line',xAxisIndex:i,yAxisIndex:i,data:[[b[0],b[2]],[b[1],b[2]],[b[1],b[3]],[b[0],b[3]],[b[0],b[2]]],
      symbol:'none',silent:true,animation:false,z:8,lineStyle:{color:'#76DCCF',width:3,type:[8,3.5]}});
  }
  legend.push(Object.assign({orient:'vertical',data:p.names,selectedMode:false,backgroundColor:'#EAEAF2',
    borderColor:'#cdcdd3',borderWidth:1,borderRadius:3,padding:[3,5,3,4],
    itemWidth:p.small?14:15,itemHeight:p.small?8.3:9,itemGap:2,z:10,
    itemStyle:{opacity:0},lineStyle:{width:1.2},
    textStyle:{fontSize:p.small?7:7.5,color:'#333',fontFamily:FONT}},p.leg));
});

const chart=echarts.init(document.getElementById('c'),null,{renderer:'canvas',width:1396,height:649});
chart.setOption({animation:false,backgroundColor:'#ffffff',grid,xAxis,yAxis,series,legend});
</script></body></html>
